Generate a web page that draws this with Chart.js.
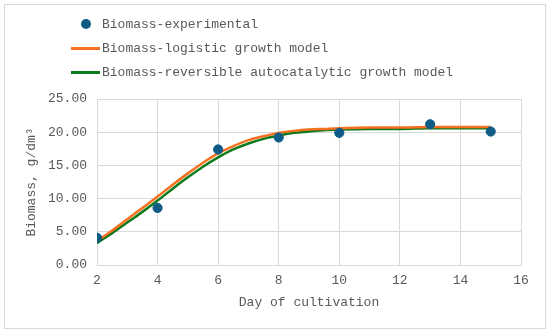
<html lang="en">
<head>
  <meta charset="UTF-8">
  <title>Biomass growth</title>
  <script src="https://cdn.jsdelivr.net/npm/chart.js"></script>
  <style>
    body { margin: 0; background: white; font-family: "Liberation Mono", monospace; }
    #frame { position: absolute; left: 4px; top: 4px; width: 540px; height: 323px; border: 1px solid #d9d9d9; }
    #wrap { position: absolute; left: 0; top: 0; width: 550px; height: 333px; }
    #legend { position: absolute; left: 71px; top: 12px; font-size: 13px; color: #595959; }
    .row { height: 24px; display: flex; align-items: center; }
    .sym { width: 31px; height: 20px; position: relative; }
    .dot { position: absolute; left: 10px; top: 5px; width: 10px; height: 10px; border-radius: 50%; background: #0f5c86; }
    .ln { position: absolute; left: 0; top: 9px; width: 29px; height: 3px; }
  </style>
</head>
<body>
  <div id="frame"></div>
  <div id="wrap"><canvas id="chart" width="550" height="333"></canvas></div>
  <div id="legend"></div>

  <script>
    // experimental points
    const expDays = [2, 4, 6, 8, 10, 13, 15];
    const expBiomass = [4.1, 8.6, 17.4, 19.2, 19.9, 21.2, 20.1];

    // model curves
    const modelDays = [2, 2.5, 3, 3.5, 4, 4.5, 5, 5.5, 6, 6.5, 7, 7.5, 8, 8.5, 9, 9.5, 10, 11, 12, 13, 14, 15];
    const logistic = [3.6, 5.2, 6.9, 8.6, 10.3, 12.1, 13.8, 15.4, 16.8, 17.9, 18.8, 19.4, 19.9, 20.2, 20.4, 20.5, 20.6, 20.7, 20.7, 20.8, 20.8, 20.8];
    const autocat = [3.3, 4.8, 6.4, 8.0, 9.7, 11.5, 13.2, 14.8, 16.2, 17.4, 18.3, 19.0, 19.5, 19.9, 20.1, 20.3, 20.4, 20.5, 20.5, 20.6, 20.6, 20.6];

    const xTicks = [2, 4, 6, 8, 10, 12, 14, 16];
    const yTicks = [0, 5, 10, 15, 20, 25];

    const labels = ["Biomass-experimental", "Biomass-logistic growth model", "Biomass-reversible autocatalytic growth model"];
    const colors = ["#0f5c86", "#f5701f", "#0d7a1c"];

    const toXY = (xs, ys) => xs.map((x, i) => ({ x: x, y: ys[i] }));
    const font = { family: "Liberation Mono", size: 13 };
    const gray = "#595959";

    new Chart(document.getElementById("chart"), {
      type: 'scatter',
      data: {
        datasets: [
          { label: labels[0], data: toXY(expDays, expBiomass), backgroundColor: colors[0], borderColor: colors[0], pointRadius: 4.6, pointHoverRadius: 4.6, order: 0 },
          { label: labels[1], data: toXY(modelDays, logistic), showLine: true, borderColor: colors[1], borderWidth: 2.5, pointRadius: 0, cubicInterpolationMode: 'monotone', order: 1 },
          { label: labels[2], data: toXY(modelDays, autocat), showLine: true, borderColor: colors[2], borderWidth: 2.5, pointRadius: 0, cubicInterpolationMode: 'monotone', order: 2 }
        ]
      },
      options: {
        responsive: false,
        animation: false,
        layout: { padding: { left: 0, top: 99, right: 29, bottom: 0 } },
        plugins: { legend: { display: false }, tooltip: { enabled: false } },
        scales: {
          x: {
            type: 'linear', min: 2, max: 16,
            afterBuildTicks: s => { s.ticks = xTicks.map(v => ({ value: v })); },
            afterFit: s => { s.height = 68; },
            grid: { color: "#d9d9d9", drawTicks: false },
            border: { color: "#d9d9d9" },
            ticks: { font: font, color: gray, padding: 8 },
            title: { display: true, text: "Day of cultivation", font: font, color: gray, padding: { top: 23, bottom: 23 } }
          },
          y: {
            min: 0, max: 25,
            afterBuildTicks: s => { s.ticks = yTicks.map(v => ({ value: v })); },
            afterFit: s => { s.width = 97; },
            grid: { color: "#d9d9d9", drawTicks: false },
            border: { color: "#d9d9d9" },
            ticks: { font: font, color: gray, padding: 10, callback: v => v.toFixed(2) },
            title: { display: true, text: "Biomass, g/dm³", font: font, color: gray, padding: { top: 24, bottom: 24 } }
          }
        }
      }
    });

    // legend as html, one item per row
    const leg = document.getElementById("legend");
    labels.forEach((t, i) => {
      const row = document.createElement("div");
      row.className = "row";
      const sym = document.createElement("div");
      sym.className = "sym";
      const m = document.createElement("div");
      m.className = i === 0 ? "dot" : "ln";
      m.style.background = colors[i];
      sym.appendChild(m);
      const txt = document.createElement("span");
      txt.textContent = t;
      row.appendChild(sym);
      row.appendChild(txt);
      leg.appendChild(row);
    });
  </script>
</body>
</html>
